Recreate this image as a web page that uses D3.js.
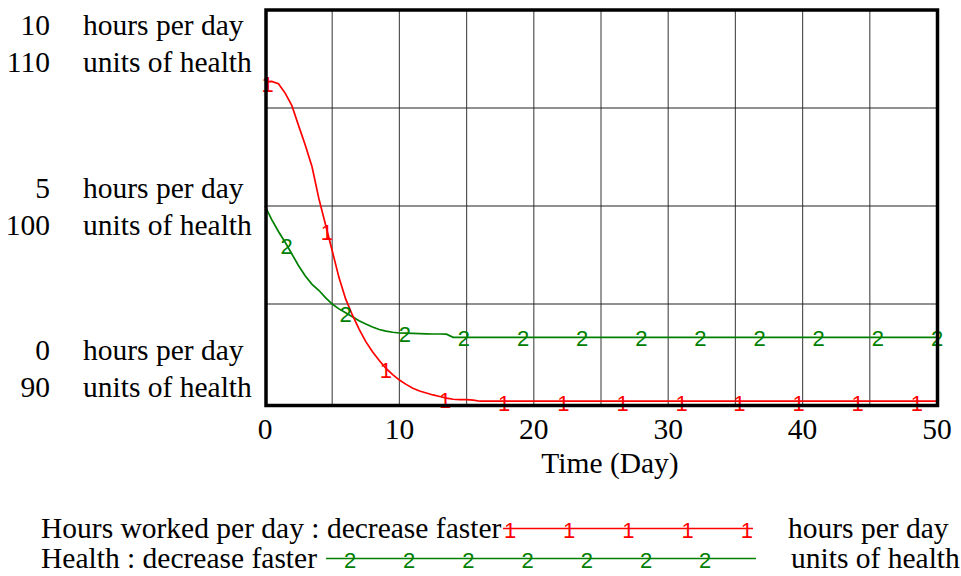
<!DOCTYPE html>
<html><head><meta charset="utf-8">
<script src="https://cdn.jsdelivr.net/npm/d3@7"></script>
<style>
html,body{margin:0;padding:0;background:#fff;}
svg{display:block;}
</style>
</head><body>
<svg id="chart" width="961" height="576"></svg>
<script>
// ---- data ----
const days = [0,0.5,1,1.5,2,2.5,3,3.5,4,4.5,5,5.5,6,6.5,7,7.5,8,8.5,9,9.5,10,10.5,11,11.5,12,12.5,13,13.5,14,14.5,15,15.5,16,20,25,30,35,40,45,50];
const hoursWorked = [8.17,8.18,8.12,7.88,7.56,7.05,6.55,6.0,5.2,4.53,3.86,3.18,2.63,2.22,1.86,1.54,1.28,1.06,0.86,0.7,0.56,0.45,0.35,0.28,0.23,0.18,0.14,0.1,0.07,0.06,0.06,0.05,0.02,0.02,0.02,0.02,0.02,0.02,0.02,0.02];
const health = [100,99.3,98.7,98.15,97.55,96.95,96.43,96.0,95.7,95.33,95.0,94.75,94.55,94.35,94.15,93.98,93.83,93.7,93.62,93.56,93.52,93.51,93.5,93.49,93.48,93.47,93.47,93.46,93.3,93.3,93.3,93.3,93.3,93.3,93.3,93.3,93.3,93.3,93.3,93.3];
const redMarkerDays = [0.2,4.6,9.0,13.4,17.8,22.2,26.6,31.0,35.3,39.7,44.1,48.5];
const greenMarkerDays = [1.6,6.0,10.4,14.8,19.2,23.6,28.0,32.4,36.8,41.2,45.6,50.0];
const xTickLabels = [0,10,20,30,40,50];
const hoursTicks = [10,5,0];
const healthTicks = [110,100,90];
const hoursUnit = "hours per day";
const healthUnit = "units of health";
const xTitle = "Time (Day)";
const seriesNames = ["Hours worked per day : decrease faster","Health : decrease faster"];

// ---- layout ----
const svg = d3.select("#chart");
const L = 265, R = 937, T = 10, B = 402;
const x = d3.scaleLinear().domain([0,50]).range([L,R]);
const yH = d3.scaleLinear().domain([0,10]).range([B,T]);
const yG = d3.scaleLinear().domain([90,110]).range([B,T]);
const serif = "'Liberation Serif','Times New Roman',serif";
const sans = "'Liberation Sans',Arial,sans-serif";
const red = "#ff0000", green = "#008000";
const mfs = 22;

// grid
const g = svg.append("g");
g.selectAll(".vg").data(d3.range(5,50,5)).join("line")
  .attr("x1", d => x(d)).attr("x2", d => x(d)).attr("y1", T).attr("y2", B+2)
  .attr("stroke", "#555").attr("stroke-width", 1.2);
g.selectAll(".hg").data([2.5,5,7.5]).join("line")
  .attr("x1", L).attr("x2", R).attr("y1", d => yH(d)).attr("y2", d => yH(d))
  .attr("stroke", "#222").attr("stroke-width", 1.1);

// lines
const lineH = d3.line().x((d,i) => x(days[i])).y(d => yH(d));
const lineG = d3.line().x((d,i) => x(days[i])).y(d => yG(d));
svg.append("path").attr("d", lineG(health)).attr("fill","none").attr("stroke",green).attr("stroke-width",1.7);
svg.append("path").attr("d", lineH(hoursWorked)).attr("fill","none").attr("stroke",red).attr("stroke-width",1.7);

// markers
const interpH = d3.scaleLinear().domain(days).range(hoursWorked);
const interpG = d3.scaleLinear().domain(days).range(health);
svg.selectAll(".mg").data(greenMarkerDays).join("text")
  .attr("x", d => x(d)).attr("y", d => yG(interpG(d)) + 9)
  .attr("text-anchor","middle").attr("font-family",sans).attr("font-size",mfs)
  .attr("fill",green).text("2");
svg.selectAll(".mr").data(redMarkerDays).join("text")
  .attr("x", d => x(d)).attr("y", d => yH(interpH(d)) + 10)
  .attr("text-anchor","middle").attr("font-family",sans).attr("font-size",mfs)
  .attr("fill",red).text("1");

// frame
svg.append("rect").attr("x", L+1).attr("y", T).attr("width", R-L-0.5).attr("height", B-T+3.5)
  .attr("fill","none").attr("stroke","#000").attr("stroke-width",3.5);

// y labels
const fs = 29.5;
const half = 33.5;
hoursTicks.forEach((h,i) => {
  const c = Math.max(T+half, Math.min(B-half, yH(h)));
  const rows = [[h, hoursUnit, c-8.5],[healthTicks[i], healthUnit, c+28.5]];
  rows.forEach(r => {
    svg.append("text").attr("x",50).attr("y",r[2]).attr("text-anchor","end")
      .attr("font-family",serif).attr("font-size",fs).text(r[0]);
    svg.append("text").attr("x",83).attr("y",r[2])
      .attr("font-family",serif).attr("font-size",fs).text(r[1]);
  });
});

// x labels
svg.selectAll(".xl").data(xTickLabels).join("text")
  .attr("x", d => x(d)).attr("y", 439).attr("text-anchor","middle")
  .attr("font-family",serif).attr("font-size",fs).text(d => d);
svg.append("text").attr("x",610).attr("y",473).attr("text-anchor","middle")
  .attr("font-family",serif).attr("font-size",fs).text(xTitle);

// legend
const leg = [
  {name: seriesNames[0], unit: hoursUnit, color: red, glyph:"1", base:538, lx1:503, lx2:753, ux:788, m0:510, n:5},
  {name: seriesNames[1], unit: healthUnit, color: green, glyph:"2", base:568, lx1:326, lx2:756, ux:791, m0:350, n:7}
];
leg.forEach(l => {
  svg.append("text").attr("x",41).attr("y",l.base).attr("font-family",serif).attr("font-size",fs).text(l.name);
  const ly = l.base - 9.5;
  svg.append("line").attr("x1",l.lx1).attr("x2",l.lx2).attr("y1",ly).attr("y2",ly)
    .attr("stroke",l.color).attr("stroke-width",1.7);
  d3.range(l.n).forEach(k => {
    svg.append("text").attr("x", l.m0 + k*59.2).attr("y", ly+9).attr("text-anchor","middle")
      .attr("font-family",sans).attr("font-size",mfs).attr("fill",l.color).text(l.glyph);
  });
  svg.append("text").attr("x",l.ux).attr("y",l.base).attr("font-family",serif).attr("font-size",fs).text(l.unit);
});
</script>
</body></html>
